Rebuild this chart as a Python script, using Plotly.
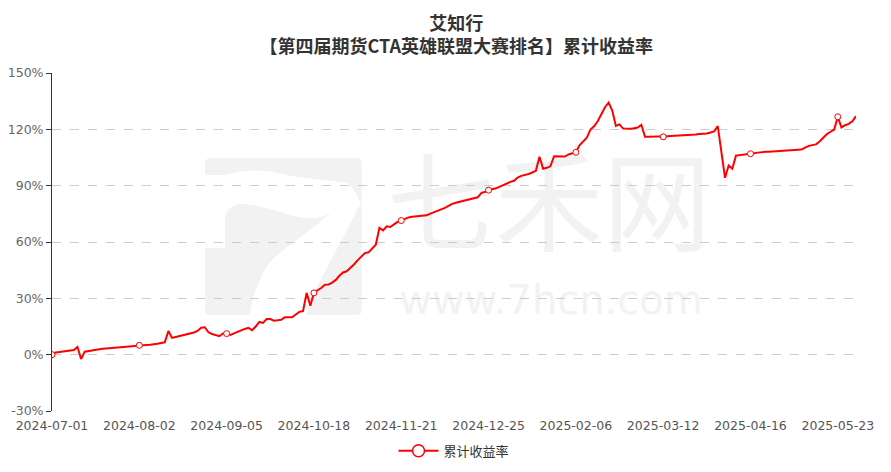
import pandas as pd
import plotly.graph_objects as go

# ---- data ----
holidays = ["2024-09-16", "2024-09-17", "2024-10-01", "2024-10-02", "2024-10-03",
            "2024-10-04", "2024-10-07", "2025-01-01", "2025-01-28", "2025-01-29",
            "2025-01-30", "2025-01-31", "2025-02-03", "2025-02-04", "2025-04-04",
            "2025-05-01", "2025-05-02", "2025-05-05"]
dates = [d.strftime("%Y-%m-%d") for d in pd.bdate_range("2024-07-01", "2025-05-30")
         if d.strftime("%Y-%m-%d") not in holidays]

returns = [
    0.0, 1.2, 1.4, 1.6, 2.0, 2.3, 2.5, 4.1, -2.3, 1.6,
    2.0, 2.3, 2.6, 2.9, 3.1, 3.3, 3.4, 3.6, 3.8, 4.0,
    4.2, 4.4, 4.6, 4.8, 5.0, 5.1, 5.2, 5.3, 5.4, 5.8,
    6.2, 6.6, 12.6, 8.9, 9.4, 9.8, 10.3, 10.8, 11.2, 11.8,
    12.6, 14.3, 14.6, 11.9, 11.0, 10.4, 9.8, 11.3, 11.2, 10.5,
    11.4, 12.2, 13.0, 13.7, 14.3, 13.0, 15.0, 17.4, 16.9, 19.0,
    19.0, 18.1, 18.3, 18.6, 19.9, 19.9, 19.9, 21.4, 22.8, 23.2,
    32.9, 26.1, 32.9, 34.3, 35.5, 37.2, 37.3, 38.4, 39.8, 42.0,
    43.8, 44.4, 46.0, 48.0, 50.2, 52.3, 54.1, 54.5, 56.5, 58.5,
    67.5, 66.2, 68.4, 68.0, 69.4, 70.7, 71.4, 72.3, 73.1, 73.5,
    73.7, 73.9, 74.1, 74.2, 75.1, 76.0, 76.8, 77.4, 78.2, 79.3,
    80.3, 80.9, 81.4, 81.9, 82.2, 82.5, 83.2, 83.8, 86.0, 86.8,
    87.6, 88.1, 88.6, 89.5, 90.5, 91.5, 92.0, 92.6, 94.3, 95.2,
    95.6, 96.2, 97.0, 97.9, 105.4, 99.0, 99.5, 100.3, 105.7, 105.7,
    105.5, 105.5, 106.6, 107.0, 107.8, 111.5, 113.8, 115.5, 119.9, 121.6,
    124.3, 128.0, 131.8, 134.2, 130.0, 121.8, 122.6, 120.4, 120.2, 120.3,
    120.6, 121.0, 122.4, 116.0, 116.0, 116.0, 116.0, 116.0, 116.0, 116.3,
    116.5, 116.6, 116.7, 116.7, 116.7, 116.7, 117.0, 117.3, 117.5, 117.6,
    117.8, 118.3, 118.9, 121.7, 108.0, 94.2, 100.7, 99.0, 106.0, 106.2,
    106.5, 106.8, 107.0, 107.3, 107.6, 107.9, 108.0, 108.1, 108.2, 108.3,
    108.4, 108.4, 108.4, 108.5, 108.7, 109.0, 109.2, 110.3, 111.2, 111.6,
    112.0, 113.5, 115.4, 117.5, 118.7, 119.9, 126.7, 121.0, 122.2, 122.9,
    124.3, 127.0,
]
n = min(len(dates), len(returns))
dates = dates[:n]
returns = returns[:n]

label_step = 24
tick_dates = dates[::label_step]
marker_dates = dates[::label_step]
marker_vals = returns[::label_step]
y_ticks = [-30, 0, 30, 60, 90, 120, 150]
y_ticktext = [f"{v}%" for v in y_ticks]

series_name = "累计收益率"
title_text = "<b>艾知行</b><br><b>【第四届期货CTA英雄联盟大赛排名】累计收益率</b>"

RED = "#ff0000"
FONT = "Noto Sans CJK SC"
TICKFONT = "DejaVu Sans"
WM = "#f2f2f2"

# ---- plot area geometry (pixels) used only for the decorative watermark ----
PL, PR, PT, PB = 52, 856, 73, 411


def to_paper(px, py):
    return (px - PL) / (PR - PL), (PB - py) / (PB - PT)


def logo_path(cmds):
    out = []
    for op, pts in cmds:
        coords = []
        for k in range(0, len(pts), 2):
            px = 195 + pts[k] / 3.0
            py = 150 + pts[k + 1] / 3.0
            xp, yp = to_paper(px, py)
            coords.append(f"{xp:.4f},{yp:.4f}")
        out.append(op + " " + " ".join(coords))
    return " ".join(out) + " Z"


logo_parts = [
    [("M", [45, 25]), ("L", [485, 25]), ("Q", [500, 25, 500, 40]), ("L", [500, 75]),
     ("L", [455, 75]), ("L", [455, 97]), ("C", [380, 90, 300, 82, 260, 72]),
     ("C", [200, 56, 140, 60, 95, 75]), ("L", [30, 75]), ("L", [30, 40]),
     ("Q", [30, 25, 45, 25])],
    [("M", [455, 75]), ("L", [500, 75]), ("L", [500, 480]), ("Q", [500, 495, 485, 495]),
     ("L", [335, 495]), ("C", [360, 400, 430, 300, 497, 160]),
     ("C", [485, 130, 472, 110, 455, 97])],
    [("M", [90, 295]), ("L", [90, 215]), ("C", [90, 172, 120, 160, 150, 162]),
     ("C", [220, 168, 280, 200, 340, 205]), ("C", [390, 208, 420, 185, 442, 150]),
     ("C", [380, 230, 260, 290, 218, 345]), ("C", [185, 400, 170, 450, 165, 495]),
     ("L", [45, 495]), ("Q", [30, 495, 30, 480]), ("L", [30, 295])],
]

fig = go.Figure()
fig.add_trace(go.Scatter(
    x=dates, y=returns, mode="lines", line=dict(color=RED, width=2),
    showlegend=False, hoverinfo="x+y"))
fig.add_trace(go.Scatter(
    x=marker_dates, y=marker_vals, mode="markers",
    marker=dict(symbol="circle", size=6, color="white", line=dict(color=RED, width=1)),
    showlegend=False, hoverinfo="skip"))
fig.add_trace(go.Scatter(
    x=[None], y=[None], mode="lines+markers", name=series_name,
    line=dict(color=RED, width=2),
    marker=dict(symbol="circle", size=12, color="white", line=dict(color=RED, width=1.5))))

# watermark (decorative)
for part in logo_parts:
    fig.add_shape(type="path", xref="paper", yref="paper", path=logo_path(part),
                  line=dict(width=0), fillcolor=WM, layer="below")
x0, y1 = to_paper(395, 158)
x1, y0 = to_paper(703, 268)
fig.add_shape(type="rect", xref="paper", yref="paper", x0=x0, x1=x1, y0=y0, y1=y1,
              line=dict(width=0), fillcolor="rgba(0,0,0,0)", layer="below",
              label=dict(text="七禾网", font=dict(size=108, color=WM, family=FONT),
                         textposition="middle center"))
x0, y1 = to_paper(396, 280)
x1, y0 = to_paper(706, 314)
fig.add_shape(type="rect", xref="paper", yref="paper", x0=x0, x1=x1, y0=y0, y1=y1,
              line=dict(width=0), fillcolor="rgba(0,0,0,0)", layer="below",
              label=dict(text="www.7hcn.com", font=dict(size=40, color=WM, family="DejaVu Sans"),
                         textposition="middle center"))

fig.update_layout(
    width=891, height=472,
    margin=dict(l=PL, r=891 - PR, t=PT, b=472 - PB, autoexpand=False),
    paper_bgcolor="white", plot_bgcolor="white",
    font=dict(family=FONT, color="#666", size=12),
    title=dict(text=title_text, x=0.512, xanchor="center", y=0.9366, yanchor="top",
               font=dict(size=18, color="#333", family=FONT)),
    showlegend=True,
    legend=dict(orientation="h", x=0.5, xanchor="center", yref="container", y=0.045,
                yanchor="middle", font=dict(size=13, color="#333", family=FONT),
                itemwidth=40),
    xaxis=dict(type="category", categoryorder="array", categoryarray=dates,
               range=[0, n - 1], tickvals=tick_dates, ticktext=tick_dates,
               showgrid=False, showline=False, ticks="", zeroline=False,
               ticklabelstandoff=5, automargin=False,
               tickfont=dict(size=12.5, color="#555", family=TICKFONT)),
    xaxis2=dict(type="category", categoryorder="array", categoryarray=dates,
                overlaying="x", matches="x", anchor="free", position=1 / 6,
                range=[0, n - 1], tickvals=tick_dates, showticklabels=False,
                showgrid=False, showline=True, linecolor="#333", linewidth=1,
                ticks="outside", ticklen=5, tickcolor="#333", automargin=False),
    yaxis=dict(range=[-30, 150], tickvals=y_ticks, ticktext=y_ticktext,
               showline=True, linecolor="#333", linewidth=1,
               ticks="outside", ticklen=5, tickcolor="#333", automargin=False,
               showgrid=True, gridcolor="#cccccc", griddash="dash", gridwidth=1,
               zeroline=False, tickfont=dict(size=12.5, color="#666", family=TICKFONT)),
)

fig.write_html("out.html", config={"displayModeBar": False},
               post_script="document.body.style.margin='0';")
